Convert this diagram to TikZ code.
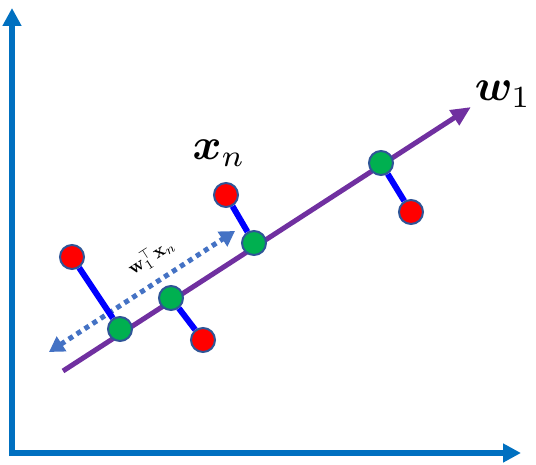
\documentclass[tikz,border=0pt]{standalone}
\usepackage{amsmath,bm}
\usetikzlibrary{arrows.meta}
\definecolor{axisblue}{HTML}{0070C0}
\definecolor{wpurple}{HTML}{7030A0}
\definecolor{dotblue}{HTML}{4472C4}
\definecolor{ptgreen}{HTML}{00B050}
\definecolor{ptborder}{HTML}{2F5597}
\tikzset{
  axis/.style={draw=axisblue, line width=6.5pt, -{Triangle[length=18pt,width=18pt]}},
  wline/.style={draw=wpurple, line width=5pt, -{Triangle[length=20pt,width=17pt]}},
  projline/.style={draw=blue, line width=6pt},
  ptg/.style={circle, fill=ptgreen, draw=ptborder, line width=2pt, minimum size=24pt, inner sep=0pt},
  ptr/.style={circle, fill=red, draw=ptborder, line width=2pt, minimum size=24pt, inner sep=0pt},
  dotarrow/.style={draw=dotblue, line width=5pt, dash pattern=on 5pt off 4.5pt, {Triangle[length=15pt,width=17pt]}-{Triangle[length=15pt,width=17pt]}},
}
\begin{document}
\begin{tikzpicture}[x=1pt,y=-1pt]
\useasboundingbox (0,0) rectangle (536,465);
\coordinate (ytip) at (12,8);
\coordinate (xtip) at (521,453);
\draw[axis] (12,456) -- (ytip);
\draw[axis] (9,453) -- (xtip);
\coordinate (ws) at (63,371);
\coordinate (we) at (471,107);
\draw[wline] (ws) -- (we);
\coordinate (ds) at (49,352);
\coordinate (de) at (235,231);
\draw[dotarrow] (ds) -- (de);
\node[ptr] (r1) at (72,257) {};
\node[ptr] (r2) at (203,340) {};
\node[ptr] (r3) at (226,195) {};
\node[ptr] (r4) at (411,212) {};
\node[ptg] (g1) at (120,329) {};
\node[ptg] (g2) at (171,298) {};
\node[ptg] (g3) at (254,243) {};
\node[ptg] (g4) at (381,163) {};
\draw[projline] (r1) -- (g1);
\draw[projline] (r2) -- (g2);
\draw[projline] (r3) -- (g3);
\draw[projline] (r4) -- (g4);
\node[rotate=33, scale=1.9] (lbl) at (151,257) {$\mathbf{w}_1^{\top}\mathbf{x}_n$};
\node[scale=4.4] (xn) at (219,153) {$\bm{x}_n$};
\node[scale=4.4] (w1) at (503,94) {$\bm{w}_1$};
\end{tikzpicture}
\end{document}
